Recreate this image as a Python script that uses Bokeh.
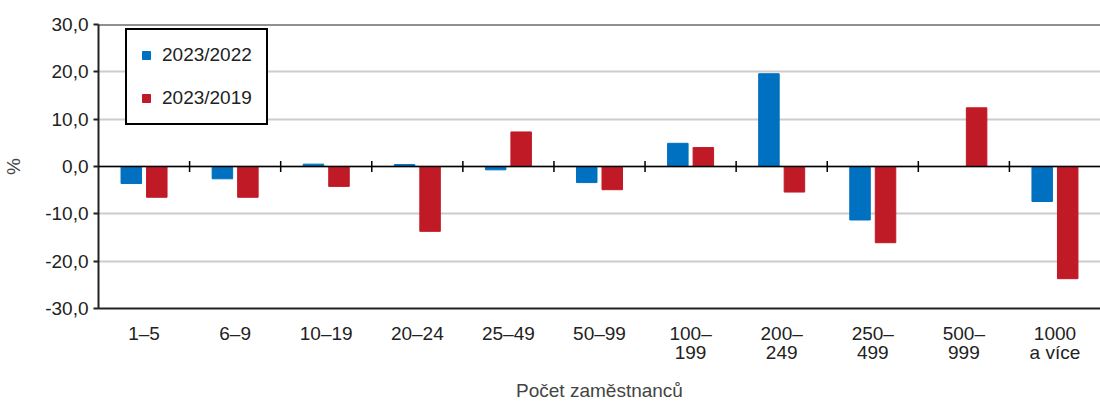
from bokeh.plotting import figure
from bokeh.models import (ColumnDataSource, FixedTicker, CustomJSTickFormatter, Span,
                          Legend, LegendItem, Range1d)
from bokeh.embed import file_html
from bokeh.resources import INLINE

categories = ["1–5", "6–9", "10–19", "20–24", "25–49", "50–99",
              "100–\n199", "200–\n249", "250–\n499", "500–\n999", "1000\na více"]
s2022 = [-3.6, -2.6, 0.5, 0.4, -0.7, -3.4, 4.9, 19.6, -11.3, 0.0, -7.4]
s2019 = [-6.5, -6.5, -4.2, -13.7, 7.3, -4.9, 4.0, -5.4, -16.1, 12.4, -23.7]
series_names = ["2023/2022", "2023/2019"]
y_ticks = [-30, -20, -10, 0, 10, 20, 30]

BLUE = "#0070c0"
RED = "#c01a27"
FONT = "Liberation Sans"
FS = "19px"

n = len(categories)
idx = list(range(n))
src = ColumnDataSource(dict(x=idx, a=s2022, b=s2019,
                            xa=[i - 0.14 for i in idx], xb=[i + 0.14 for i in idx]))

p = figure(width=1100, height=405, output_backend="svg", toolbar_location=None,
           x_range=Range1d(-0.5, n - 0.5), y_range=Range1d(y_ticks[0], y_ticks[-1]),
           min_border_left=98, min_border_right=0, min_border_top=24, min_border_bottom=97)
p.outline_line_color = None
p.background_fill_color = "white"

ra = p.vbar(x="xa", top="a", bottom=0, width=0.225, source=src, fill_color=BLUE, line_color=BLUE)
rb = p.vbar(x="xb", top="b", bottom=0, width=0.225, source=src, fill_color=RED, line_color=RED)

# zero line and top border
p.add_layout(Span(location=0, dimension="width", line_color="black", line_width=1.5))
p.add_layout(Span(location=y_ticks[-1], dimension="width", line_color="#222222", line_width=2))

# category boundary ticks crossing the zero line
bx = [i + 0.5 for i in idx[:-1]]
p.segment(x0=bx, x1=bx, y0=[-1.15] * len(bx), y1=[1.15] * len(bx), line_color="black", line_width=1.5)

# y axis
p.yaxis.ticker = FixedTicker(ticks=y_ticks)
p.yaxis.formatter = CustomJSTickFormatter(code="return tick.toFixed(1).replace('.', ',');")
p.yaxis.axis_label = "%"
p.yaxis.axis_label_text_font = FONT
p.yaxis.axis_label_text_font_style = "normal"
p.yaxis.axis_label_text_font_size = FS
p.yaxis.axis_label_standoff = 18
p.yaxis.major_label_text_font = FONT
p.yaxis.major_label_text_font_size = FS
p.yaxis.major_label_text_color = "#222222"
p.yaxis.major_label_standoff = 5
p.yaxis.major_tick_out = 5
p.yaxis.major_tick_in = 0
p.yaxis.minor_tick_line_color = None
p.yaxis.axis_line_width = 2
p.yaxis.axis_line_color = "#222222"
p.yaxis.major_tick_line_width = 2
p.yaxis.major_tick_line_color = "#222222"

# x axis
p.xaxis.ticker = FixedTicker(ticks=idx)
p.xaxis.major_label_overrides = {i: c for i, c in zip(idx, categories)}
p.xaxis.major_label_text_font = FONT
p.xaxis.major_label_text_font_size = FS
p.xaxis.major_label_text_line_height = 0.95
p.xaxis.major_label_text_color = "#222222"
p.xaxis.major_label_standoff = 8
p.xaxis.major_tick_line_color = None
p.xaxis.minor_tick_line_color = None
p.xaxis.axis_line_width = 2
p.xaxis.axis_line_color = "#222222"
p.xaxis.axis_label = "Počet zaměstnanců"
p.xaxis.axis_label_text_font = FONT
p.xaxis.axis_label_text_font_style = "normal"
p.xaxis.axis_label_text_font_size = FS
p.xaxis.axis_label_standoff = 14

p.xgrid.grid_line_color = None
p.ygrid.ticker = FixedTicker(ticks=y_ticks)
p.ygrid.grid_line_color = "#cccccc"
p.ygrid.grid_line_width = 2

legend = Legend(items=[LegendItem(label=series_names[0], renderers=[ra]),
                       LegendItem(label=series_names[1], renderers=[rb])],
                location=(27, 183))
legend.border_line_color = "black"
legend.border_line_alpha = 1.0
legend.border_line_width = 2
legend.background_fill_color = "white"
legend.background_fill_alpha = 1
legend.glyph_width = 10
legend.glyph_height = 10
legend.label_height = 20
legend.label_standoff = 11
legend.spacing = 21
legend.padding = 14
legend.margin = 0
legend.label_text_font = FONT
legend.label_text_font_size = FS
legend.label_text_color = "#222222"
p.add_layout(legend, "center")

open("out.html", "w").write(file_html(p, INLINE))
